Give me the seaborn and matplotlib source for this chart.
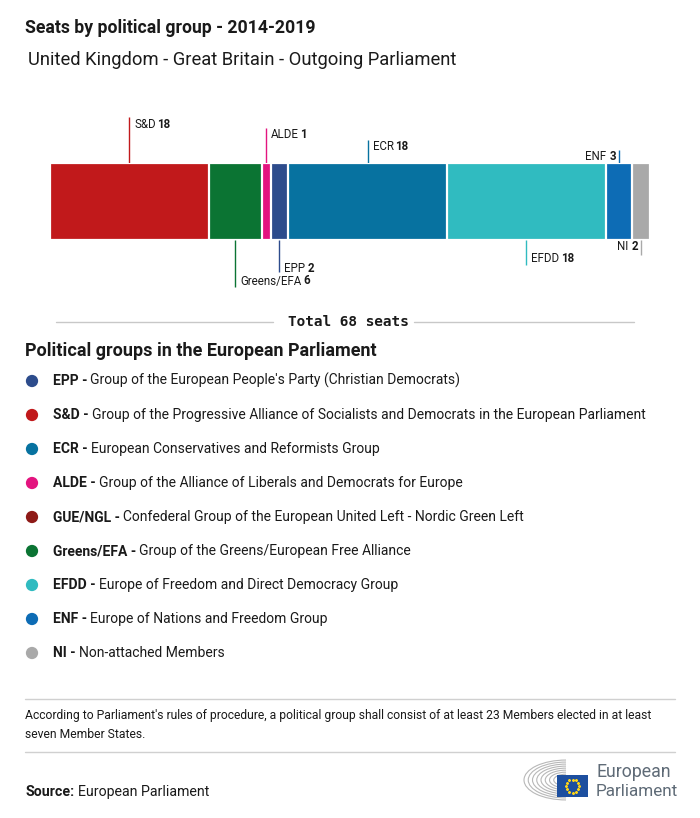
import numpy as np
import pandas as pd
import matplotlib
matplotlib.use("Agg")
import matplotlib.pyplot as plt
import seaborn as sns
from matplotlib.transforms import blended_transform_factory, offset_copy
from matplotlib.patches import Rectangle, Arc

# ---------------- data ----------------
groups = ["S&D", "Greens/EFA", "ALDE", "EPP", "ECR", "EFDD", "ENF", "NI"]
seats = [18, 6, 1, 2, 18, 18, 3, 2]
palette = {
    "EPP": "#2d4c8c", "S&D": "#c1191b", "ECR": "#0772a0", "ALDE": "#e3147f",
    "GUE/NGL": "#8e1a17", "Greens/EFA": "#0b7433", "EFDD": "#30bbc0",
    "ENF": "#0d6cb5", "NI": "#a9a9a9",
}
legend_codes = ["EPP", "S&D", "ECR", "ALDE", "GUE/NGL", "Greens/EFA", "EFDD", "ENF", "NI"]
legend_names = [
    "Group of the European People's Party (Christian Democrats)",
    "Group of the Progressive Alliance of Socialists and Democrats in the European Parliament",
    "European Conservatives and Reformists Group",
    "Group of the Alliance of Liberals and Democrats for Europe",
    "Confederal Group of the European United Left - Nordic Green Left",
    "Group of the Greens/European Free Alliance",
    "Europe of Freedom and Direct Democracy Group",
    "Europe of Nations and Freedom Group",
    "Non-attached Members",
]
title = "Seats by political group - 2014-2019"
subtitle = "United Kingdom - Great Britain - Outgoing Parliament"
legend_title = "Political groups in the European Parliament"
note_lines = ["According to Parliament's rules of procedure, a political group shall consist of at least 23 Members elected in at least",
              "seven Member States."]
source_label = "Source:"
source_text = "European Parliament"

# ---------------- setup ----------------
sns.set_theme(style="white")
plt.rcParams['font.family'] = ['Roboto', 'DejaVu Sans']
TXT = "#1a1a1a"
W, H = 700, 818
fig = plt.figure(figsize=(W / 100, H / 100), dpi=100)
fig.patch.set_facecolor("white")
ov = fig.add_axes([0, 0, 1, 1])
ov.set_xlim(0, W)
ov.set_ylim(H, 0)
ov.axis("off")

# ---------------- stacked bar ----------------
bx0, bx1, by0, by1 = 50, 650, 163, 240
ax = fig.add_axes([bx0 / W, 1 - by1 / H, (bx1 - bx0) / W, (by1 - by0) / H])
df = pd.DataFrame({"group": groups, "seats": seats})
df["cum"] = df["seats"].cumsum()
df["mid"] = df["cum"] - df["seats"] / 2
df["row"] = "UK"
sns.barplot(data=df, x="cum", y="row", hue="group", hue_order=groups[::-1],
            palette=palette, dodge=False, width=1.0, errorbar=None, saturation=1,
            edgecolor="white", linewidth=1.6, legend=False, ax=ax, orient="h")
ax.set_xlim(0, df["seats"].sum())
ax.set_ylim(0.5, -0.5)
ax.axis("off")

tr = blended_transform_factory(ax.transData, ov.transData)
# (group, line_end_y, text_y, side)
label_spec = {
    "S&D": (117, 124, "up", "left"),
    "ALDE": (128, 134, "up", "left"),
    "ECR": (140, 146, "up", "left"),
    "ENF": (150, 157, "up", "right"),
    "Greens/EFA": (287, 281, "down", "left"),
    "EPP": (272, 268, "down", "left"),
    "EFDD": (265, 258, "down", "left"),
    "NI": (255, 247, "down", "right"),
}
FS_LAB = 8.3
for _, r in df.iterrows():
    g = r["group"]
    ly, ty, d, side = label_spec[g]
    y0 = by0 if d == "up" else by1
    ov.plot([r["mid"], r["mid"]], [y0, ly], color=palette[g], lw=1, transform=tr,
            solid_capstyle="butt", clip_on=False)
    if side == "left":
        t1 = ov.text(r["mid"], ty, g, fontsize=FS_LAB, color=TXT, va="center", ha="left",
                     transform=offset_copy(tr, fig=fig, x=5, y=0, units="dots"))
        ov.annotate(str(r["seats"]), xy=(1, 0), xycoords=t1,
                    xytext=(1 if str(r["seats"]).startswith("1") else 2, 0),
                    textcoords="offset pixels", fontsize=FS_LAB, fontweight="bold",
                    color=TXT, va="bottom", ha="left")
    else:
        t1 = ov.text(r["mid"], ty, str(r["seats"]), fontsize=FS_LAB, color=TXT, va="center",
                     ha="right", fontweight="bold",
                     transform=offset_copy(tr, fig=fig, x=-3, y=0, units="dots"))
        ov.annotate(g, xy=(0, 0), xycoords=t1, xytext=(-3, 0),
                    textcoords="offset pixels", fontsize=FS_LAB,
                    color=TXT, va="bottom", ha="right")

# ---------------- titles ----------------
ov.text(25, 28, title, fontsize=12.7, fontweight="bold", color=TXT, va="center", ha="left")
ov.text(28, 60, subtitle, fontsize=13.2, color=TXT, va="center", ha="left")

# ---------------- total ----------------
total = int(df["seats"].sum())
ov.plot([56, 273], [322, 322], color="#c8c8c8", lw=1)
ov.plot([414, 634], [322, 322], color="#c8c8c8", lw=1)
ov.text(348, 322, f"Total {total} seats", family="DejaVu Sans Mono", fontweight="bold",
        fontsize=10.4, color=TXT, ha="center", va="center")

# ---------------- legend ----------------
ov.text(25, 351, legend_title, fontsize=13, fontweight="bold", color=TXT, va="center", ha="left")
leg = pd.DataFrame({"code": legend_codes, "name": legend_names})
leg["y"] = 381 + 34 * np.arange(len(leg))
leg["x"] = 32
sns.scatterplot(data=leg, x="x", y="y", hue="code", palette=palette, s=78,
                edgecolor="none", legend=False, ax=ov, zorder=5)
ov.set_xlim(0, W); ov.set_ylim(H, 0); ov.axis("off")
for _, r in leg.iterrows():
    t1 = ov.text(53, r["y"], f"{r['code']} -", fontsize=10, fontweight="bold",
                 color=TXT, va="center", ha="left")
    ov.annotate(r["name"], xy=(1, 0), xycoords=t1, xytext=(3, 0),
                textcoords="offset pixels", fontsize=10, color=TXT,
                va="bottom", ha="left")

# ---------------- footer ----------------
ov.plot([25, 675], [699, 699], color="#d0d0d0", lw=1)
ov.text(25, 716, note_lines[0], fontsize=8.75, color=TXT, va="center", ha="left")
ov.text(25, 734, note_lines[1], fontsize=8.75, color=TXT, va="center", ha="left")
ov.plot([25, 675], [752, 752], color="#d0d0d0", lw=1)
t1 = ov.text(25, 792, source_label, fontsize=10.2, fontweight="bold", color=TXT, va="center", ha="left")
ov.annotate(source_text, xy=(1, 0), xycoords=t1, xytext=(4, 0),
            textcoords="offset pixels", fontsize=10.2, color=TXT, va="bottom", ha="left")

# ---------------- logo ----------------
cx, cy = 566, 780
for i, rr in enumerate(np.linspace(8, 42, 9)):
    ov.add_patch(Arc((cx, cy), rr * 2, rr * 0.95, theta1=90, theta2=270,
                     color="#b8b8b8", lw=0.8))
ov.add_patch(Rectangle((557, 775), 31, 22, facecolor="#1d4f9f", edgecolor="none", zorder=6))
ang = np.linspace(0, 2 * np.pi, 13)[:-1]
ov.scatter(572.5 + 6.5 * np.cos(ang), 786 + 6.5 * np.sin(ang), s=1.5, color="#ffd617",
           zorder=7, marker="*")
ov.text(596, 772, "European", fontsize=12.8, color="#5f6b77", va="center", ha="left")
ov.text(596, 791, "Parliament", fontsize=12.3, color="#5f6b77", va="center", ha="left")

fig.savefig("out.png", dpi=100, facecolor="white")
